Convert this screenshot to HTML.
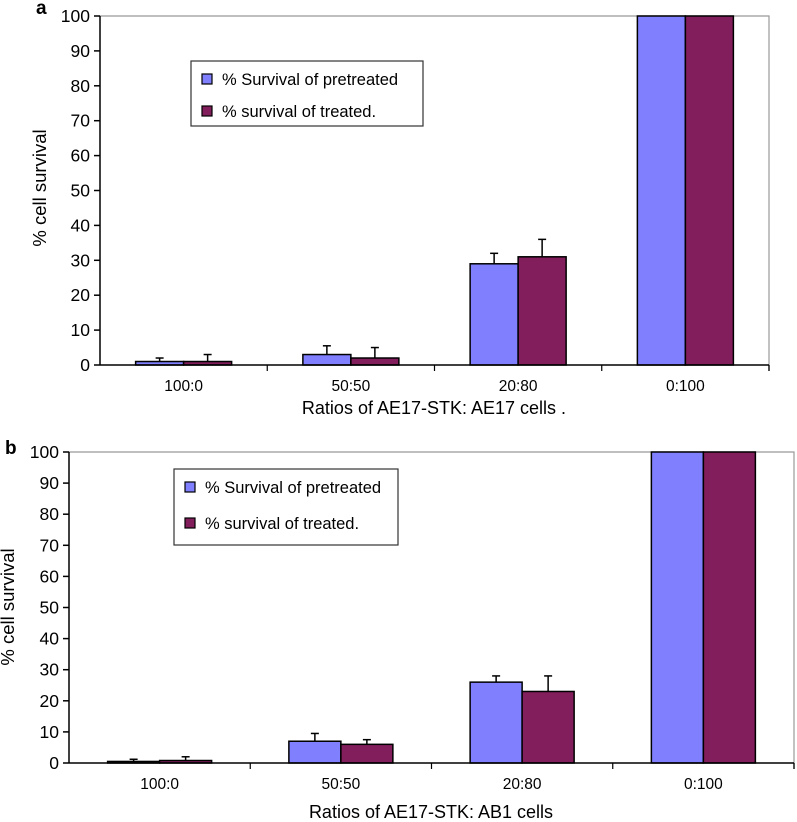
<!DOCTYPE html>
<html><head><meta charset="utf-8"><style>
body{margin:0;background:#fff}
svg{display:block;font-family:"Liberation Sans",Arial,sans-serif}
</style></head><body>
<svg id="c" width="797" height="822"></svg>
<script>
const categories=["100:0","50:50","20:80","0:100"];
const aPre=[1,3,29,100];
const aTre=[1,2,31,100];
const aPreErr=[1,2.5,3,0];
const aTreErr=[2,3,5,0];
const bPre=[0.5,7,26,100];
const bTre=[0.8,6,23,100];
const bPreErr=[0.7,2.5,2,0];
const bTreErr=[1.2,1.5,5,0];
const yTicks=[0,10,20,30,40,50,60,70,80,90,100];
const NS="http://www.w3.org/2000/svg";
const svg=document.getElementById('c');
function mk(t,a,p){const e=document.createElementNS(NS,t);for(const k in a)e.setAttribute(k,a[k]);(p||svg).appendChild(e);return e;}
function panel(cfg){
 const g=mk('g',{});
 
 
 const {x0,x1,yTop,yBot}=cfg;
 const ys=v=>yBot-(v/100)*(yBot-yTop);
 const cw=(x1-x0)/categories.length;
 mk('polyline',{points:`${x0},${yTop} ${x1},${yTop} ${x1},${yBot}`,fill:'none',stroke:'#999','stroke-width':1.2},g);
 yTicks.forEach(t=>{
  const y=ys(t);
  mk('line',{x1:x0-6,x2:x0,y1:y,y2:y,stroke:'#000','stroke-width':1.5},g);
  const tx=mk('text',{x:x0-10,y:y+6,'font-size':17.5,'text-anchor':'end'},g);tx.textContent=t;
  
  
 });
 categories.forEach((c,i)=>{
  const cx=x0+cw*(i+0.5);
  const xt=x0+cw*(i+1);
  mk('line',{x1:xt,x2:xt,y1:yBot,y2:yBot+6,stroke:'#000','stroke-width':1.2},g);
  const tx=mk('text',{x:cx,y:yBot+26,'font-size':15.5,'text-anchor':'middle'},g);tx.textContent=c;
  
  
  [[cfg.pre,cfg.preE,'#8080ff',-1],[cfg.tre,cfg.treE,'#821e5c',0]].forEach(([vals,errs,col,o])=>{
   const bx=cx+o*cfg.bw, v=vals[i], yv=ys(v);
   if(errs[i]>0){
    const ye=ys(v+errs[i]);
    mk('line',{x1:bx+cfg.bw/2,x2:bx+cfg.bw/2,y1:yv,y2:ye,stroke:'#000','stroke-width':1.5},g);
    mk('line',{x1:bx+cfg.bw/2-4,x2:bx+cfg.bw/2+4,y1:ye,y2:ye,stroke:'#000','stroke-width':1.5},g);
   }
   const r=mk('rect',{x:bx,y:yv,width:cfg.bw,height:yBot-yv,fill:col,stroke:'#000','stroke-width':1.5},g);
   
   
  });
 });
 mk('line',{x1:x0,x2:x0,y1:yTop,y2:yBot,stroke:'#000','stroke-width':1.5},g);
 mk('line',{x1:x0,x2:x1,y1:yBot,y2:yBot,stroke:'#000','stroke-width':1.5},g);
 mk('line',{x1:x1,x2:x1,y1:yBot,y2:yBot+6,stroke:'#000','stroke-width':1.2},g);
 const yt=mk('text',{x:0,y:0,'font-size':18.5,'text-anchor':'middle',transform:`translate(${cfg.ytx},${cfg.yty}) rotate(-90)`},g);yt.textContent='% cell survival';
 
 
 const xt=mk('text',{x:cfg.xtx,y:cfg.xty,'font-size':18,'text-anchor':'middle'},g);xt.textContent=cfg.xtitle;
 
 
 const pl=mk('text',{x:cfg.px,y:cfg.py,'font-size':19,'font-weight':'bold'},g);pl.textContent=cfg.id;
 
 
 const lg=mk('g',{},g);
 
 
 const L=cfg.leg;
 mk('rect',{x:L.x,y:L.y,width:L.w,height:L.h,fill:'#fff',stroke:'#333','stroke-width':1.2},lg);
 [['% Survival of pretreated','#8080ff'],['% survival of treated.','#821e5c']].forEach(([t,col],k)=>{
  const yy=L.y+L.r1+k*L.dy;
  mk('rect',{x:L.x+11,y:yy-11,width:10,height:10,fill:col,stroke:'#000','stroke-width':1.2},lg);
  const tx=mk('text',{x:L.x+31,y:yy,'font-size':16.5},lg);tx.textContent=t;
  
  
 });
}
panel({id:'a',x0:100,x1:769,yTop:16,yBot:365,bw:48,pre:aPre,tre:aTre,preE:aPreErr,treE:aTreErr,
 ytx:46,yty:188,xtx:434,xty:414,xtitle:'Ratios of AE17-STK: AE17 cells .',px:36,py:14,
 leg:{x:191,y:61,w:232,h:65,r1:24,dy:32}});
panel({id:'b',x0:69,x1:794,yTop:452,yBot:763,bw:52,pre:bPre,tre:bTre,preE:bPreErr,treE:bTreErr,
 ytx:14,yty:607,xtx:431,xty:818,xtitle:'Ratios of AE17-STK: AB1 cells',px:5,py:454,
 leg:{x:174,y:469,w:224,h:76,r1:24,dy:36}});
</script>
</body></html>
